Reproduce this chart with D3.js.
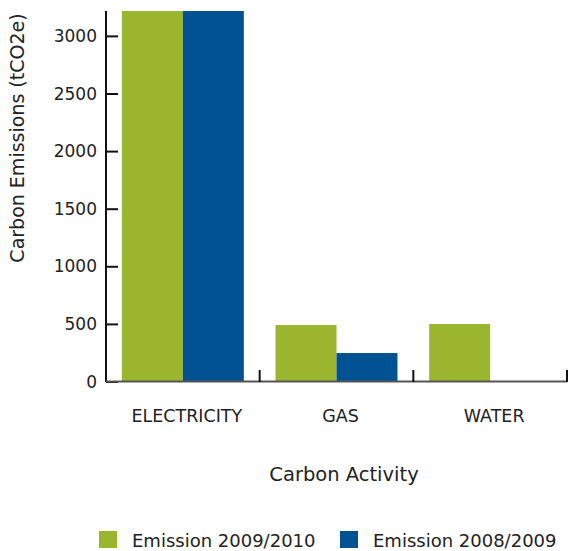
<!DOCTYPE html>
<html><head><meta charset="utf-8">
<script src="https://cdn.jsdelivr.net/npm/d3@7"></script>
<style>body{margin:0;background:#fff}svg{display:block}text{font-family:"DejaVu Sans",sans-serif;fill:#222}</style>
</head><body>
<script>
const categories = ["ELECTRICITY", "GAS", "WATER"];
const seriesNames = ["Emission 2009/2010", "Emission 2008/2009"];
const emission2009_2010 = [3600, 490, 499];
const emission2008_2009 = [3500, 247, 0];
const yTicks = [0, 500, 1000, 1500, 2000, 2500, 3000];
const colors = ["#9bb52f", "#005293"];

const W = 569, H = 551;
const svg = d3.select("body").append("svg").attr("width", W).attr("height", H);
const x0 = d3.scaleBand().domain(categories).range([106, 567]).paddingInner(0).paddingOuter(0);
const x1 = d3.scaleBand().domain(seriesNames).range([0, x0.bandwidth()]).paddingInner(0).paddingOuter(0.26);
const y = d3.scaleLinear().domain([0, 3216]).range([381.5, 11]);

svg.append("clipPath").attr("id","clip").append("rect").attr("x",106).attr("y",11).attr("width",461).attr("height",371);

const data = categories.map((c,i)=>({cat:c, vals:[emission2009_2010[i], emission2008_2009[i]]}));
const g = svg.append("g").attr("clip-path","url(#clip)");
data.forEach(d=>{
  d.vals.forEach((v,j)=>{
    g.append("rect").attr("x", x0(d.cat)+x1(seriesNames[j])).attr("width", x1.bandwidth())
      .attr("y", y(v)).attr("height", y(0)-y(v)).attr("fill", colors[j]);
  });
});

// y axis
const ya = svg.append("g").attr("transform","translate(106,0)")
  .call(d3.axisRight(y).tickValues(yTicks).tickSize(12).tickFormat(""));
ya.select(".domain").remove();
ya.selectAll("line").attr("stroke","#111").attr("stroke-width",2);
svg.append("line").attr("x1",106).attr("x2",106).attr("y1",11).attr("y2",382).attr("stroke","#111").attr("stroke-width",2);
svg.selectAll(".ylab").data(yTicks).enter().append("text").attr("class","ylab")
  .attr("x",97).attr("y",d=>y(d)).attr("dy","0.36em").attr("text-anchor","end")
  .attr("font-size",17).text(d=>d);

// x axis
svg.append("line").attr("x1",106).attr("x2",567).attr("y1",381.5).attr("y2",381.5).attr("stroke","#555").attr("stroke-width",2);
const bounds = categories.map(c=>x0(c)).concat([x0.range()[1]]);
svg.selectAll(".xt").data(bounds.slice(1)).enter().append("line")
  .attr("x1",d=>d).attr("x2",d=>d).attr("y1",370).attr("y2",382).attr("stroke","#111").attr("stroke-width",2);
svg.selectAll(".xlab").data(categories).enter().append("text")
  .attr("x",d=>x0(d)+x0.bandwidth()/2+4).attr("y",422).attr("text-anchor","middle")
  .attr("font-size",17.5).text(d=>d);

svg.append("text").attr("x",344).attr("y",481).attr("text-anchor","middle").attr("font-size",19.5).text("Carbon Activity");
svg.append("text").attr("transform","translate(17.5,138) rotate(-90)").attr("dy","0.36em").attr("text-anchor","middle").attr("font-size",19).text("Carbon Emissions (tCO2e)");

// legend
const legX = [99, 340];
seriesNames.forEach((s,i)=>{
  svg.append("rect").attr("x",legX[i]).attr("y",531).attr("width",18).attr("height",17).attr("fill",colors[i]);
  svg.append("text").attr("x",legX[i]+33).attr("y",546.5).attr("font-size",18).text(s);
});
</script>
</body></html>
